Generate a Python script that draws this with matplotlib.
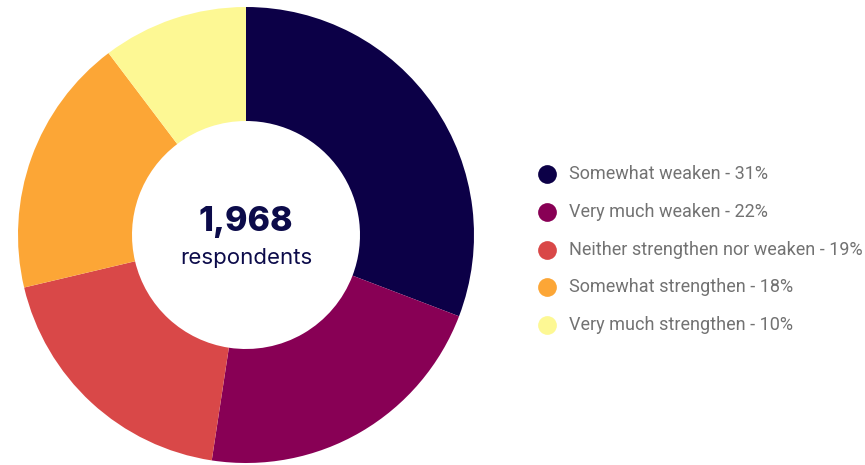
import matplotlib.pyplot as plt

categories = ['Somewhat weaken', 'Very much weaken', 'Neither strengthen nor weaken',
              'Somewhat strengthen', 'Very much strengthen']
shares = [31, 22, 19, 18, 10]              # w legendzie
values = [30.8, 21.6, 18.9, 18.4, 10.3]    # rozmiar wycinkow
colors = ['#0c0047', '#880055', '#d94848', '#fca636', '#fdf894']
total = '1,968'

fig = plt.figure(figsize=(8.65, 4.65), dpi=100)
ax = fig.add_axes([246 / 865 - 228 / 865, (465 - 235 - 228) / 465, 456 / 865, 456 / 465])
ax.pie(values, colors=colors, startangle=90, counterclock=False,
       wedgeprops=dict(width=0.5, linewidth=0))
ax.set_xlim(-1, 1)
ax.set_ylim(-1, 1)
ax.set_aspect('equal')
ax.axis('off')

ax.text(0, 0.055, total, ha='center', va='center', fontsize=24.5, fontweight='heavy',
        color='#0c0b4a', family='Inter')
ax.text(0, -0.10, 'respondents', ha='center', va='center', fontsize=16,
        color='#0c0b4a', family='Inter')

# legenda
lax = fig.add_axes([0, 0, 1, 1])
lax.set_xlim(0, 865)
lax.set_ylim(465, 0)
lax.axis('off')
for i, (cat, s, c) in enumerate(zip(categories, shares, colors)):
    y = 174 + i * 37.8
    lax.scatter([547], [y], s=13.5 ** 2, color=c, linewidths=0)
    lax.text(569, y, f'{cat} - {s}%', va='center', ha='left', fontsize=13,
             color='#727272', family='Roboto')

fig.savefig('out.png', dpi=100)
